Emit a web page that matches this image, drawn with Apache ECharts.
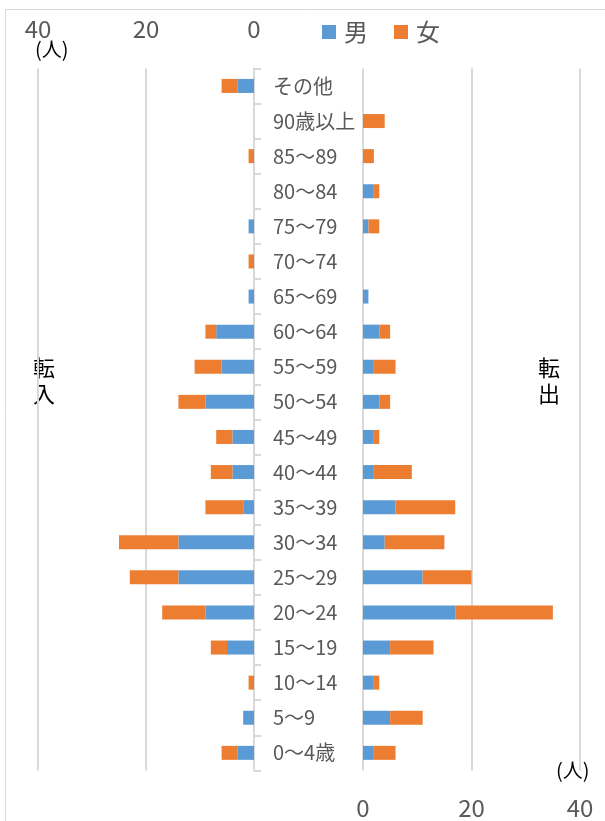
<!DOCTYPE html>
<html>
<head>
<meta charset="utf-8">
<script src="https://cdn.jsdelivr.net/npm/echarts@6/dist/echarts.min.js"></script>
<style>
html,body{margin:0;padding:0;background:#fff;}
#c{width:605px;height:821px;}
</style>
</head>
<body>
<div id="c"></div>
<script>
// categories, bottom to top
var categories = ['0〜4歳','5〜9','10〜14','15〜19','20〜24','25〜29','30〜34','35〜39','40〜44','45〜49','50〜54','55〜59','60〜64','65〜69','70〜74','75〜79','80〜84','85〜89','90歳以上','その他'];
var inMale    = [3,2,0,5,9,14,14,2,4,4,9,6,7,1,0,1,0,0,0,3];
var inFemale  = [3,0,1,3,8,9,11,7,4,3,5,5,2,0,1,0,0,1,0,3];
var outMale   = [2,5,2,5,17,11,4,6,2,2,3,2,3,1,0,1,2,0,0,0];
var outFemale = [4,6,1,8,18,9,11,11,7,1,2,4,2,0,0,2,1,2,4,0];
var xTicks = [0,20,40];

var FONT = '"Noto Sans CJK JP","Noto Sans",sans-serif';
var TXT = '#595959';
var GRID = '#d9d9d9';
var BLUE = '#5B9BD5';
var ORANGE = '#ED7D31';

var chart = echarts.init(document.getElementById('c'), null, {renderer:'canvas'});
var gTop = 68.4, gH = 702;
var option = {
  animation:false,
  textStyle:{fontFamily:FONT},
  legend:{
    data:['男','女'],
    left:317, top:15,
    itemWidth:14, itemHeight:14, itemGap:26,
    icon:'rect',
    textStyle:{fontSize:24, color:TXT, fontFamily:FONT, padding:[0,0,0,3]}
  },
  grid:[
    {left:38, right:351, top:gTop, height:gH, containLabel:false},
    {left:363, right:25, top:gTop, height:gH, containLabel:false}
  ],
  xAxis:[
    {gridIndex:0, type:'value', inverse:true, position:'top', min:0, max:40, interval:20,
     axisLine:{show:false}, axisTick:{show:false},
     axisLabel:{fontSize:24, color:TXT, margin:28, fontFamily:FONT,
       formatter:function(v){return xTicks.indexOf(v)>=0?String(v):'';}},
     splitLine:{lineStyle:{color:GRID, width:2}}},
    {gridIndex:1, type:'value', position:'bottom', min:0, max:40, interval:20,
     axisLine:{show:false}, axisTick:{show:false},
     axisLabel:{fontSize:24, color:TXT, margin:25, fontFamily:FONT,
       formatter:function(v){return xTicks.indexOf(v)>=0?String(v):'';}},
     splitLine:{lineStyle:{color:GRID, width:2}}}
  ],
  yAxis:[
    {gridIndex:0, type:'category', data:categories, position:'right',
     axisLine:{show:true, lineStyle:{color:GRID, width:2}},
     axisTick:{show:true, length:7, lineStyle:{color:GRID, width:2}},
     axisLabel:{fontSize:20, color:TXT, margin:19, fontFamily:FONT, align:'left'}},
    {gridIndex:1, type:'category', data:categories, show:false}
  ],
  series:[
    {name:'男', type:'bar', xAxisIndex:0, yAxisIndex:0, stack:'in', data:inMale, barWidth:14, itemStyle:{color:BLUE}},
    {name:'女', type:'bar', xAxisIndex:0, yAxisIndex:0, stack:'in', data:inFemale, barWidth:14, itemStyle:{color:ORANGE}},
    {name:'男', type:'bar', xAxisIndex:1, yAxisIndex:1, stack:'out', data:outMale, barWidth:14, itemStyle:{color:BLUE}},
    {name:'女', type:'bar', xAxisIndex:1, yAxisIndex:1, stack:'out', data:outFemale, barWidth:14, itemStyle:{color:ORANGE}}
  ],
  graphic:[
    {type:'rect', shape:{x:5.5, y:9.5, width:700, height:900}, style:{fill:'none', stroke:GRID, lineWidth:1}, silent:true, z:-10},
    {type:'text', left:35, top:39, style:{text:'(人)', font:'20px '+FONT, fill:'#000'}},
    {type:'text', left:556, top:760, style:{text:'(人)', font:'20px '+FONT, fill:'#000'}},
    {type:'text', left:33, top:355, style:{text:'転\n入', font:'22px '+FONT, fill:'#000', lineHeight:26}},
    {type:'text', left:538, top:355, style:{text:'転\n出', font:'22px '+FONT, fill:'#000', lineHeight:26}}
  ]
};
chart.setOption(option);
</script>
</body>
</html>
